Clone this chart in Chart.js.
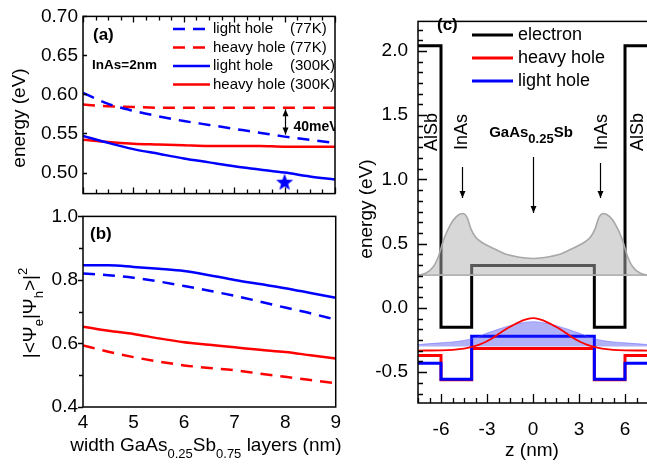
<!DOCTYPE html>
<html>
<head>
<meta charset="utf-8">
<script src="https://cdn.jsdelivr.net/npm/chart.js@4.4.1/dist/chart.umd.min.js"></script>
<style>
  html, body { margin: 0; padding: 0; background: #fff; overflow: hidden; }
  body { width: 647px; height: 470px; position: relative; }
  canvas { position: absolute; }
</style>
</head>
<body>
<canvas id="chartA" width="345" height="210" style="left:0;top:0"></canvas>
<canvas id="chartB" width="345" height="270" style="left:0;top:200px"></canvas>
<canvas id="chartC" width="320" height="470" style="left:330px;top:0"></canvas>
<script>
/*------------------------------ data ------------------------------*/
// (a) energies vs GaAsSb width
const widths = [4, 4.5, 5, 5.5, 6, 6.5, 7, 7.5, 8, 8.5, 9];
const lh77E  = [0.602, 0.588, 0.579, 0.572, 0.566, 0.561, 0.556, 0.551, 0.546, 0.542, 0.538];
const hh77E  = [0.587, 0.585, 0.584, 0.583, 0.583, 0.583, 0.583, 0.583, 0.583, 0.583, 0.583];
const lh300E = [0.547, 0.538, 0.530, 0.524, 0.518, 0.513, 0.508, 0.504, 0.500, 0.495, 0.491];
const hh300E = [0.542, 0.539, 0.537, 0.536, 0.535, 0.534, 0.534, 0.534, 0.533, 0.533, 0.533];
const starPoint = { x: 8, y: 0.487 };
const energyTicks = [0.50, 0.55, 0.60, 0.65, 0.70];

// (b) overlap |<Ψe|Ψh>|^2
const lh77O  = [0.820, 0.815, 0.807, 0.795, 0.781, 0.766, 0.750, 0.732, 0.713, 0.695, 0.675];
const hh77O  = [0.594, 0.574, 0.557, 0.543, 0.531, 0.523, 0.516, 0.505, 0.495, 0.485, 0.475];
const lh300O = [0.846, 0.846, 0.841, 0.835, 0.828, 0.815, 0.800, 0.787, 0.774, 0.759, 0.744];
const hh300O = [0.653, 0.640, 0.630, 0.616, 0.604, 0.596, 0.588, 0.580, 0.573, 0.563, 0.553];
const overlapTicks = [0.4, 0.6, 0.8, 1.0];
const widthTicks = [4, 5, 6, 7, 8, 9];

const seriesNames = ['light hole', 'heavy hole', 'light hole', 'heavy hole'];
const seriesTemps = ['(77K)', '(77K)', '(300K)', '(300K)'];

// (c) band profile
const zBand  = [-7.5, -6, -6, -4, -4, 4, 4, 6, 6, 7.5];
const eBand  = [2.04, 2.04, -0.15, -0.15, 0.33, 0.33, -0.15, -0.15, 2.04, 2.04];
const hhBand = [-0.37, -0.37, -0.56, -0.56, -0.315, -0.315, -0.56, -0.56, -0.37, -0.37];
const lhBand = [-0.43, -0.43, -0.555, -0.555, -0.22, -0.22, -0.555, -0.555, -0.43, -0.43];

const eLevel = 0.255;
const eWaveZ = [-7.5, -7, -6.5, -6.2, -5.8, -5.4, -5, -4.6, -4.3, -4.05, -3.75, -3.4, -3, -2.4, -1.8, -1.2, -0.6, 0,
                0.6, 1.2, 1.8, 2.4, 3, 3.4, 3.75, 4.05, 4.3, 4.6, 5, 5.4, 5.8, 6.2, 6.5, 7, 7.5];
const eWave  = [0.255, 0.27, 0.32, 0.39, 0.54, 0.645, 0.71, 0.735, 0.705, 0.615, 0.552, 0.515, 0.488, 0.452, 0.42, 0.402, 0.39, 0.385,
                0.39, 0.402, 0.42, 0.452, 0.488, 0.515, 0.552, 0.615, 0.705, 0.735, 0.71, 0.645, 0.54, 0.39, 0.32, 0.27, 0.255];

const hWaveZ = [-7.5, -6, -5.25, -4.5, -4, -3.5, -3.1, -2.6, -2.2, -1.8, -1.35, -0.9, -0.45, 0,
                0.45, 0.9, 1.35, 1.8, 2.2, 2.6, 3.1, 3.5, 4, 4.5, 5.25, 6, 7.5];
const hhWave = [-0.332, -0.33, -0.326, -0.317, -0.304, -0.285, -0.265, -0.232, -0.20, -0.168, -0.138, -0.11, -0.09, -0.08,
                -0.09, -0.11, -0.138, -0.168, -0.20, -0.232, -0.265, -0.285, -0.304, -0.317, -0.326, -0.33, -0.332];
const lhLevel = -0.30;
const lhWave = [-0.285, -0.272, -0.265, -0.253, -0.24, -0.222, -0.20, -0.18, -0.163, -0.148, -0.133, -0.12, -0.111, -0.107,
                -0.111, -0.12, -0.133, -0.148, -0.163, -0.18, -0.20, -0.222, -0.24, -0.253, -0.265, -0.272, -0.285];
const energyTicksC = [-0.5, 0.0, 0.5, 1.0, 1.5, 2.0];
const zTicks = [-6, -3, 0, 3, 6];

/*----------------------------- helpers ----------------------------*/
const FONT = "'Liberation Sans', Arial, Helvetica, sans-serif";
const RED = '#ff0000';
const BLUE = '#0000ff';
Chart.defaults.font.family = FONT;
Chart.defaults.color = '#000';

const pts = (xs, ys) => xs.map((x, i) => ({ x: x, y: ys[i] }));

// scale with fixed tick list and fixed box size
function axis(min, max, tickList, fmt, size, pad, fit) {
  return {
    type: 'linear', min: min, max: max,
    grid: { display: false, drawTicks: false },
    border: { display: false },
    afterBuildTicks: s => { s.ticks = tickList.map(v => ({ value: v })); },
    ticks: { display: !!tickList.length, callback: fmt, font: { size: size }, padding: pad,
             autoSkip: false, maxRotation: 0, minRotation: 0 },
    afterFit: fit
  };
}

// text with sub/superscripts; y is the baseline
function drawRich(ctx, parts, x, y, size, o) {
  o = o || {};
  const w = o.bold ? 'bold ' : '';
  const fontOf = p => w + (p[1] ? Math.round(size * (o.small || 0.7)) : size) + 'px ' + FONT;
  let total = 0;
  parts.forEach(p => { ctx.font = fontOf(p); total += ctx.measureText(p[0]).width; });
  ctx.save();
  ctx.translate(x, y);
  if (o.rotate) ctx.rotate(o.rotate);
  ctx.textBaseline = 'alphabetic';
  ctx.textAlign = 'left';
  let cx = o.align === 'left' ? 0 : -total / 2;
  parts.forEach(p => {
    ctx.font = fontOf(p);
    const dy = p[1] === 'sub' ? size * 0.38 : (p[1] === 'sup' ? -size * 0.45 : 0);
    ctx.fillText(p[0], cx, dy);
    cx += ctx.measureText(p[0]).width;
  });
  ctx.restore();
}

function arrow(ctx, x, yFrom, yTo, both) {
  const hl = 7, hw = 3;
  ctx.beginPath();
  ctx.moveTo(x, yFrom); ctx.lineTo(x, yTo);
  ctx.lineWidth = 1.2; ctx.strokeStyle = '#000'; ctx.stroke();
  const head = (yt, dir) => {
    ctx.beginPath();
    ctx.moveTo(x, yt); ctx.lineTo(x - hw, yt - dir * hl); ctx.lineTo(x + hw, yt - dir * hl);
    ctx.closePath(); ctx.fill();
  };
  ctx.fillStyle = '#000';
  head(yTo, yTo > yFrom ? 1 : -1);
  if (both) head(yFrom, yTo > yFrom ? -1 : 1);
}

function starImage(r, color) {
  const c = document.createElement('canvas');
  c.width = c.height = 2 * r + 2;
  const g = c.getContext('2d');
  g.fillStyle = color;
  g.beginPath();
  for (let i = 0; i < 10; i++) {
    const rr = i % 2 ? r * 0.42 : r;
    const a = -Math.PI / 2 + i * Math.PI / 5;
    g.lineTo(r + 1 + rr * Math.cos(a), r + 1 + rr * Math.sin(a));
  }
  g.closePath();
  g.fill();
  return c;
}

// frame round the plot + tick marks
function frameTicks(specs) {
  return {
    id: 'frameTicks',
    afterDatasetsDraw(chart) {
      const { ctx, chartArea: a } = chart;
      ctx.save();
      ctx.strokeStyle = '#000';
      ctx.lineWidth = 1.5;
      ctx.strokeRect(a.left, a.top, a.right - a.left, a.bottom - a.top);
      ctx.lineWidth = 1.3;
      ctx.beginPath();
      specs.forEach(s => {
        const sc = chart.scales[s.axis];
        for (let i = s.from; i <= s.to; i++) {
          const v = s.origin + i * s.step;
          if (v < sc.min - 1e-9 || v > sc.max + 1e-9) continue;
          const len = (i % s.every === 0 ? s.major : s.minor) * s.dir;
          const p = Math.round(sc.getPixelForValue(v)) + 0.5;
          if (s.side === 'bottom') { ctx.moveTo(p, a.bottom); ctx.lineTo(p, a.bottom - len); }
          if (s.side === 'top') { ctx.moveTo(p, a.top); ctx.lineTo(p, a.top + len); }
          if (s.side === 'left') { ctx.moveTo(a.left, p); ctx.lineTo(a.left + len, p); }
        }
      });
      ctx.stroke();
      ctx.restore();
    }
  };
}

function legendBox(o) {
  return {
    id: 'legendBox',
    afterDraw(chart) {
      const ctx = chart.ctx;
      ctx.save();
      ctx.font = o.size + 'px ' + FONT;
      ctx.textBaseline = 'middle';
      ctx.fillStyle = '#000';
      o.items.forEach((idx, r) => {
        const ds = chart.data.datasets[idx];
        const y = o.y0 + r * o.dy;
        ctx.strokeStyle = ds.borderColor;
        ctx.lineWidth = o.lw;
        ctx.setLineDash(ds.borderDash || []);
        ctx.beginPath(); ctx.moveTo(o.x0, y); ctx.lineTo(o.x1, y); ctx.stroke();
        ctx.setLineDash([]);
        ctx.fillText(o.names ? o.names[r] : ds.label, o.tx, y);
        if (o.extra) ctx.fillText(o.extra[r], o.tx2, y);
      });
      ctx.restore();
    }
  };
}

const baseOptions = {
  responsive: false,
  animation: false,
  events: [],
  plugins: { legend: { display: false }, tooltip: { enabled: false } }
};

function curve(label, xs, ys, color, dashed) {
  return {
    label: label, data: pts(xs, ys), borderColor: color, borderWidth: 2.5,
    borderDash: dashed ? [12, 8] : [], pointRadius: 0, fill: false,
    cubicInterpolationMode: 'monotone'
  };
}

/*---------------------------- panel (a) ---------------------------*/
new Chart(document.getElementById('chartA'), {
  type: 'line',
  data: {
    datasets: [
      { type: 'scatter', label: 'star', data: [starPoint], pointStyle: starImage(9, BLUE),
        pointRadius: 9, backgroundColor: BLUE, borderColor: BLUE },
      curve(seriesNames[0], widths, lh77E, BLUE, true),
      curve(seriesNames[1], widths, hh77E, RED, true),
      curve(seriesNames[2], widths, lh300E, BLUE, false),
      curve(seriesNames[3], widths, hh300E, RED, false)
    ]
  },
  options: Object.assign({}, baseOptions, {
    layout: { padding: { top: 13, right: 8, bottom: 7, left: 0 } },
    scales: {
      x: axis(4, 9, [], v => v, 19, 0, s => { s.height = 0; }),
      y: axis(0.473, 0.70, energyTicks, v => v.toFixed(2), 19, 5, s => { s.width = 83; })
    }
  }),
  plugins: [
    frameTicks([
      { axis: 'x', side: 'bottom', origin: 4, step: 0.25, from: 0, to: 20, every: 4, major: 6, minor: 4, dir: 1 },
      { axis: 'x', side: 'top', origin: 4, step: 0.25, from: 0, to: 20, every: 4, major: 6, minor: 4, dir: 1 },
      { axis: 'y', side: 'left', origin: 0.5, step: 0.05, from: -1, to: 4, every: 1, major: 4, minor: 4, dir: 1 }
    ]),
    legendBox({ items: [1, 2, 3, 4], extra: seriesTemps, x0: 173, x1: 210, tx: 213, tx2: 290,
                y0: 29, dy: 18.5, size: 15, lw: 2.5 }),
    {
      id: 'notesA',
      afterDraw(chart) {
        const { ctx, chartArea: a, scales: { x, y } } = chart;
        ctx.save();
        ctx.fillStyle = '#000';
        ctx.textBaseline = 'alphabetic';
        ctx.font = 'bold 17px ' + FONT;
        ctx.fillText('(a)', 93, 40);
        ctx.font = 'bold 13.5px ' + FONT;
        ctx.fillText('InAs=2nm', 92, 69);
        const xa = Math.round(x.getPixelForValue(8)) + 0.5;
        arrow(ctx, xa, y.getPixelForValue(hh77E[8]) + 1.5, y.getPixelForValue(lh77E[8]) - 2, true);
        ctx.save();
        ctx.beginPath();
        ctx.rect(a.left, a.top, a.right - a.left, a.bottom - a.top);
        ctx.clip();
        ctx.font = 'bold 14px ' + FONT;
        ctx.textBaseline = 'middle';
        ctx.fillText('40meV', xa + 8, 127);
        ctx.restore();
        drawRich(ctx, [['energy (eV)']], 25, 118, 19, { rotate: -Math.PI / 2 });
        ctx.restore();
      }
    }
  ]
});

/*---------------------------- panel (b) ---------------------------*/
new Chart(document.getElementById('chartB'), {
  type: 'line',
  data: {
    datasets: [
      curve(seriesNames[0], widths, lh77O, BLUE, true),
      curve(seriesNames[1], widths, hh77O, RED, true),
      curve(seriesNames[2], widths, lh300O, BLUE, false),
      curve(seriesNames[3], widths, hh300O, RED, false)
    ]
  },
  options: Object.assign({}, baseOptions, {
    layout: { padding: { top: 15, right: 8, bottom: 0, left: 0 } },
    scales: {
      x: axis(4, 9, widthTicks, v => String(v), 19, 4, s => { s.height = 63; }),
      y: axis(0.4, 1.0, overlapTicks, v => v.toFixed(1), 19, 5, s => { s.width = 83; })
    }
  }),
  plugins: [
    frameTicks([
      { axis: 'y', side: 'left', origin: 0.4, step: 0.1, from: 0, to: 6, every: 2, major: 5, minor: 4, dir: -1 }
    ]),
    {
      id: 'notesB',
      afterDraw(chart) {
        const ctx = chart.ctx;
        ctx.save();
        ctx.fillStyle = '#000';
        ctx.font = 'bold 17px ' + FONT;
        ctx.textBaseline = 'alphabetic';
        ctx.fillText('(b)', 90, 39);
        drawRich(ctx, [['|<Ψ'], ['e', 'sub'], ['|Ψ'], ['h', 'sub'], ['>|'], ['2', 'sup']],
                 36, 113, 19, { rotate: -Math.PI / 2 });
        drawRich(ctx, [['width GaAs'], ['0.25', 'sub'], ['Sb'], ['0.75', 'sub'], [' layers (nm)']],
                 206, 251, 19);
        ctx.restore();
      }
    }
  ]
});

/*---------------------------- panel (c) ---------------------------*/
new Chart(document.getElementById('chartC'), {
  type: 'line',
  data: {
    datasets: [
      { label: 'hh state', data: pts(hWaveZ, hhWave), borderColor: RED, borderWidth: 1.8,
        pointRadius: 0, fill: false, cubicInterpolationMode: 'monotone' },
      { label: 'lh state', data: pts(hWaveZ, lhWave), borderColor: 'rgba(90,90,255,0.45)', borderWidth: 1,
        pointRadius: 0, fill: { value: lhLevel }, backgroundColor: 'rgba(40,40,235,0.36)',
        cubicInterpolationMode: 'monotone' },
      { label: 'light hole', data: pts(zBand, lhBand), borderColor: BLUE, borderWidth: 3,
        pointRadius: 0, tension: 0, fill: false },
      { label: 'heavy hole', data: pts(zBand, hhBand), borderColor: RED, borderWidth: 3,
        pointRadius: 0, tension: 0, fill: false },
      { label: 'e state', data: pts(eWaveZ, eWave), borderColor: '#a8a8a8', borderWidth: 1.6,
        pointRadius: 0, fill: { value: eLevel }, backgroundColor: 'rgba(175,175,175,0.5)',
        cubicInterpolationMode: 'monotone' },
      { label: 'e level', data: pts([-7.5, 7.5], [eLevel, eLevel]), borderColor: '#b4b4b4', borderWidth: 1.6,
        pointRadius: 0, fill: false },
      { label: 'electron', data: pts(zBand, eBand), borderColor: '#000', borderWidth: 3,
        pointRadius: 0, tension: 0, fill: false }
    ]
  },
  options: Object.assign({}, baseOptions, {
    layout: { padding: { top: 15, right: 2, bottom: 0, left: 0 } },
    scales: {
      x: axis(-7.5, 7.5, zTicks, v => String(v), 19, 15, s => { s.height = 67; }),
      y: axis(-0.74, 2.23, energyTicksC, v => v.toFixed(1), 19, 10, s => { s.width = 88; })
    }
  }),
  plugins: [
    frameTicks([
      { axis: 'y', side: 'left', origin: 0, step: 1 / 12, from: -9, to: 27, every: 6, major: 9, minor: 5, dir: 1 },
      { axis: 'x', side: 'bottom', origin: 0, step: 0.75, from: -10, to: 10, every: 4, major: 9, minor: 5, dir: 1 }
    ]),
    legendBox({ items: [6, 3, 2], x0: 142, x1: 183, tx: 188, y0: 35, dy: 23, size: 18, lw: 3 }),
    {
      id: 'notesC',
      afterDraw(chart) {
        const ctx = chart.ctx;
        ctx.save();
        ctx.fillStyle = '#000';
        ctx.font = 'bold 17px ' + FONT;
        ctx.textBaseline = 'alphabetic';
        ctx.fillText('(c)', 107, 30);
        const up = -Math.PI / 2;
        drawRich(ctx, [['AlSb']], 107, 132, 18, { rotate: up });
        drawRich(ctx, [['AlSb']], 313, 132, 18, { rotate: up });
        drawRich(ctx, [['InAs']], 137, 132, 18, { rotate: up });
        drawRich(ctx, [['InAs']], 277, 132, 18, { rotate: up });
        drawRich(ctx, [['GaAs'], ['0.25', 'sub'], ['Sb']], 201, 137, 15, { bold: true, small: 0.85 });
        arrow(ctx, 132.5, 167, 198, false);
        arrow(ctx, 203.5, 157, 213, false);
        arrow(ctx, 270.5, 163, 198, false);
        drawRich(ctx, [['energy (eV)']], 42, 209, 19, { rotate: up });
        drawRich(ctx, [['z (nm)']], 202, 456, 19);
        ctx.restore();
      }
    }
  ]
});
</script>
</body>
</html>
